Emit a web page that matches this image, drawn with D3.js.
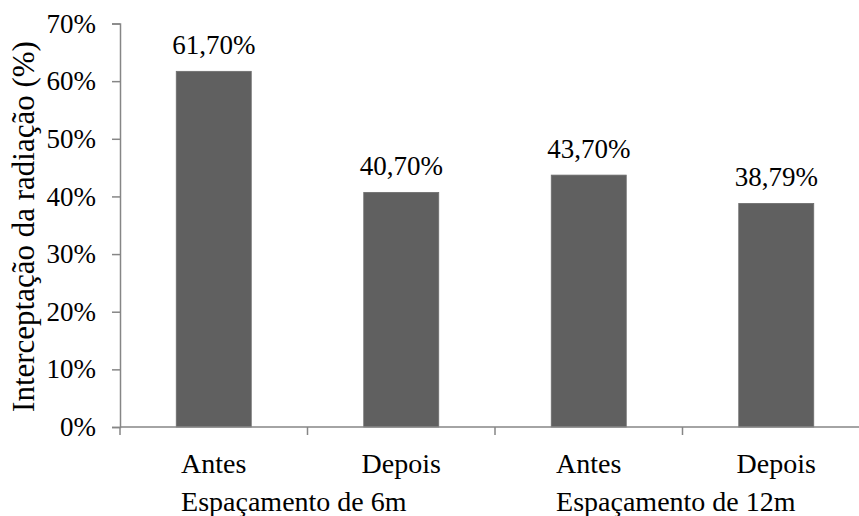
<!DOCTYPE html>
<html>
<head>
<meta charset="utf-8">
<script src="https://cdn.jsdelivr.net/npm/d3@7"></script>
<style>
  html, body { margin: 0; padding: 0; background: #fff; }
  svg { display: block; }
  text { font-family: "Liberation Serif", "Times New Roman", serif; fill: #000; }
</style>
</head>
<body>
<svg id="chart" width="859" height="516"></svg>
<script>
// Radiation interception before/after, by tree spacing
const categories = ["Antes", "Depois", "Antes", "Depois"];
const groups = ["Espaçamento de 6m", "Espaçamento de 12m"];
const values = [61.70, 40.70, 43.70, 38.79];
const valueLabels = ["61,70%", "40,70%", "43,70%", "38,79%"];
const yTicks = [0, 10, 20, 30, 40, 50, 60, 70];
const yTitle = "Interceptação da radiação (%)";

const svg = d3.select("#chart");
const axisColor = "#868686";
const barColor = "#606060";

const plotLeft = 120, plotTop = 23.5, plotBottom = 427;
const band = 187.5;
const idx = d3.range(categories.length);

const x = d3.scaleBand()
  .domain(idx)
  .range([plotLeft, plotLeft + band * categories.length])
  .paddingInner(0.6)
  .paddingOuter(0.3);

const y = d3.scaleLinear().domain([0, 70]).range([plotBottom, plotTop]);

// y axis
const yAxis = svg.append("g")
  .attr("transform", `translate(${plotLeft},0)`)
  .call(d3.axisLeft(y).tickValues(yTicks).tickSize(8).tickPadding(16)
    .tickFormat(d => d + "%"));
yAxis.select(".domain").attr("stroke", axisColor).attr("stroke-width", 1.5);
yAxis.selectAll(".tick line").attr("stroke", axisColor).attr("stroke-width", 1.5);
yAxis.selectAll(".tick text")
  .attr("font-size", 27)
  .attr("font-family", "Liberation Serif, Times New Roman, serif")
  .attr("fill", "#000");

// bars
svg.append("g").selectAll("rect")
  .data(values)
  .join("rect")
  .attr("x", (d, i) => x(i))
  .attr("width", x.bandwidth())
  .attr("y", d => y(d))
  .attr("height", d => y(0) - y(d))
  .attr("fill", barColor)
  .attr("stroke", "#6e6e6e")
  .attr("stroke-width", 0.8);

// x axis line with boundary ticks between categories
const xEnd = plotLeft + band * categories.length;
svg.append("line")
  .attr("x1", plotLeft).attr("x2", xEnd)
  .attr("y1", y(0)).attr("y2", y(0))
  .attr("stroke", axisColor).attr("stroke-width", 1.5);
svg.append("g").selectAll("line")
  .data(d3.range(categories.length + 1))
  .join("line")
  .attr("x1", i => plotLeft + i * band).attr("x2", i => plotLeft + i * band)
  .attr("y1", y(0)).attr("y2", y(0) + 8)
  .attr("stroke", axisColor).attr("stroke-width", 1.5);

// value labels
svg.append("g").selectAll("text")
  .data(values)
  .join("text")
  .attr("x", (d, i) => x(i) + x.bandwidth() / 2)
  .attr("y", d => y(d) - 17)
  .attr("text-anchor", "middle")
  .attr("font-size", 27)
  .text((d, i) => valueLabels[i]);

// category labels
const catText = svg.append("g").selectAll("text")
  .data(categories)
  .join("text")
  .attr("x", (d, i) => x(i) + x.bandwidth() / 2)
  .attr("y", 473)
  .attr("text-anchor", "middle")
  .attr("font-size", 28)
  .text(d => d);

// group labels, aligned with the start of each group's first category label
const catNodes = catText.nodes();
svg.append("g").selectAll("text")
  .data(groups)
  .join("text")
  .attr("x", (d, g) => {
    const i = g * 2;
    return x(i) + x.bandwidth() / 2 - catNodes[i].getComputedTextLength() / 2;
  })
  .attr("y", 511)
  .attr("text-anchor", "start")
  .attr("font-size", 28)
  .text(d => d);

// y axis title
svg.append("text")
  .attr("transform", "translate(34,226.5) rotate(-90)")
  .attr("text-anchor", "middle")
  .attr("font-size", 31)
  .text(yTitle);
</script>
</body>
</html>
